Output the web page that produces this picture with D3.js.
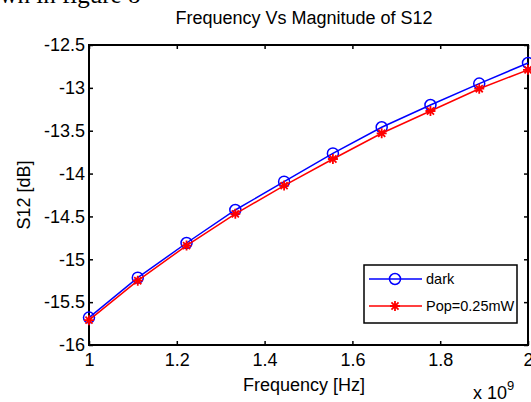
<!DOCTYPE html>
<html>
<head>
<meta charset="utf-8">
<script src="https://cdn.jsdelivr.net/npm/d3@7"></script>
<style>
  body { margin: 0; background: #fff; }
  svg { display: block; font-family: "Liberation Sans", Arial, sans-serif; }
</style>
</head>
<body>
<div id="chart"></div>
<script>
// data (frequency in units of 1e9 Hz)
var freq = [1, 1.1111, 1.2222, 1.3333, 1.4444, 1.5556, 1.6667, 1.7778, 1.8889, 2];
var dark = [-15.68, -15.215, -14.81, -14.425, -14.095, -13.765, -13.46, -13.20, -12.95, -12.71];
var pop = [-15.71, -15.25, -14.84, -14.47, -14.14, -13.83, -13.53, -13.27, -13.01, -12.79];
var seriesNames = ["dark", "Pop=0.25mW"];
var xTicks = [1, 1.2, 1.4, 1.6, 1.8, 2];
var yTicks = [-12.5, -13, -13.5, -14, -14.5, -15, -15.5, -16];

var svgWidth = 531, svgHeight = 402;
var margin = { top: 45, right: 3, bottom: 57, left: 89 };
var chartWidth = svgWidth - margin.left - margin.right;
var chartHeight = svgHeight - margin.top - margin.bottom;

var svg = d3.select("#chart").append("svg")
  .attr("width", svgWidth)
  .attr("height", svgHeight);

// cropped document text at the top
svg.append("text")
  .attr("x", -13).attr("y", 3)
  .attr("font-family", "'Liberation Serif', 'Times New Roman', serif")
  .attr("font-size", 25)
  .text("own in figure 8");

var chartGroup = svg.append("g")
  .attr("transform", `translate(${margin.left}, ${margin.top})`);

var xScale = d3.scaleLinear().domain([1, 2]).range([0, chartWidth]);
var yScale = d3.scaleLinear().domain([-16, -12.5]).range([chartHeight, 0]);

// ticks on all four sides, pointing inward
function styleAxis(g) {
  g.select(".domain").remove();
  g.selectAll(".tick line").attr("stroke", "#000").attr("stroke-width", 1.5);
  g.selectAll(".tick text").attr("fill", "#000").attr("font-size", 18)
   .attr("font-family", "'Liberation Sans', Arial, sans-serif");
}

chartGroup.append("g")
  .attr("transform", `translate(0, ${chartHeight})`)
  .call(d3.axisBottom(xScale).tickValues(xTicks).tickSize(-4).tickPadding(8)
        .tickFormat(d => d3.format("")(+d.toFixed(1))))
  .call(styleAxis);

chartGroup.append("g")
  .call(d3.axisTop(xScale).tickValues(xTicks).tickSize(-4).tickFormat(""))
  .call(styleAxis);

chartGroup.append("g")
  .call(d3.axisLeft(yScale).tickValues(yTicks).tickSize(-4).tickPadding(4)
        .tickFormat(d => String(d)))
  .call(styleAxis);

chartGroup.append("g")
  .attr("transform", `translate(${chartWidth}, 0)`)
  .call(d3.axisRight(yScale).tickValues(yTicks).tickSize(-4).tickFormat(""))
  .call(styleAxis);

// box
chartGroup.append("rect")
  .attr("width", chartWidth).attr("height", chartHeight)
  .attr("fill", "none").attr("stroke", "#000").attr("stroke-width", 2);

var line = d3.line().x((d, i) => xScale(freq[i])).y(d => yScale(d));

function starPath(r) {
  var p = "";
  for (var k = 0; k < 4; k++) {
    var a = k * Math.PI / 4;
    var dx = r * Math.cos(a), dy = r * Math.sin(a);
    p += `M${-dx},${-dy}L${dx},${dy}`;
  }
  return p;
}

// dark series
chartGroup.append("path").datum(dark)
  .attr("d", line).attr("fill", "none").attr("stroke", "#0000ff").attr("stroke-width", 1.5);
chartGroup.selectAll(".dark-pt").data(dark).enter().append("circle")
  .attr("class", "dark-pt")
  .attr("cx", (d, i) => xScale(freq[i])).attr("cy", d => yScale(d))
  .attr("r", 5.5).attr("fill", "none").attr("stroke", "#0000ff").attr("stroke-width", 1.5);

// pop series
chartGroup.append("path").datum(pop)
  .attr("d", line).attr("fill", "none").attr("stroke", "#ff0000").attr("stroke-width", 1.5);
chartGroup.selectAll(".pop-pt").data(pop).enter().append("path")
  .attr("class", "pop-pt")
  .attr("transform", (d, i) => `translate(${xScale(freq[i])}, ${yScale(d)})`)
  .attr("d", starPath(5)).attr("stroke", "#ff0000").attr("stroke-width", 1.8);

// title and axis labels
svg.append("text")
  .attr("x", 304).attr("y", 24).attr("text-anchor", "middle")
  .attr("font-size", 18).text("Frequency Vs Magnitude of S12");

svg.append("text")
  .attr("x", 304).attr("y", 391).attr("text-anchor", "middle")
  .attr("font-size", 18).text("Frequency [Hz]");

svg.append("text")
  .attr("transform", "translate(30, 195) rotate(-90)").attr("text-anchor", "middle")
  .attr("font-size", 18).text("S12 [dB]");

var expo = svg.append("text").attr("x", 473).attr("y", 399).attr("font-size", 18);
expo.append("tspan").text("x 10");
expo.append("tspan").attr("dy", -9).attr("font-size", 13).text("9");

// legend
var legend = svg.append("g").attr("transform", "translate(364, 265)");
legend.append("rect").attr("width", 153).attr("height", 58)
  .attr("fill", "#fff").attr("stroke", "#000").attr("stroke-width", 1.5);

var legendColors = ["#0000ff", "#ff0000"];
seriesNames.forEach(function(name, i) {
  var yy = 14 + i * 27;
  legend.append("line").attr("x1", 5).attr("x2", 58).attr("y1", yy).attr("y2", yy)
    .attr("stroke", legendColors[i]).attr("stroke-width", 1.5);
  if (i === 0) {
    legend.append("circle").attr("cx", 31).attr("cy", yy).attr("r", 5.5)
      .attr("fill", "none").attr("stroke", legendColors[i]).attr("stroke-width", 1.5);
  } else {
    legend.append("path").attr("transform", `translate(31, ${yy})`)
      .attr("d", starPath(5)).attr("stroke", legendColors[i]).attr("stroke-width", 1.8);
  }
  legend.append("text").attr("x", 62).attr("y", yy + 5)
    .attr("font-size", 14.5).text(name);
});
</script>
</body>
</html>
